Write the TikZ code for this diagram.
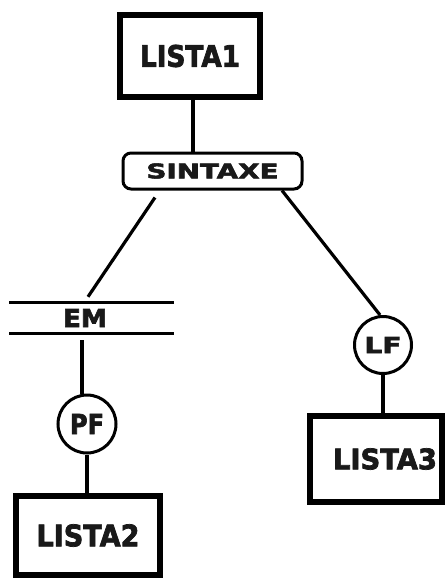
\documentclass[tikz,border=0pt]{standalone}
\usepackage{fontspec}
\setmainfont{DejaVu Sans}[BoldFeatures={FakeBold=2.5}]
\newcommand{\fittxt}[3]{\resizebox{#1}{#2}{\bfseries #3}}
\begin{document}
\begin{tikzpicture}[x=1pt,y=-1pt,
  bigbox/.style={draw=black,line width=6pt,rectangle,inner sep=0pt},
  roundbox/.style={draw=black,line width=3pt,rectangle,rounded corners=8pt,inner sep=0pt,minimum width=179pt,minimum height=36pt},
  ringnode/.style={draw=black,line width=3pt,circle,inner sep=0pt,minimum size=58pt},
  conn/.style={line width=3.2pt,draw=black},
  txt/.style={text=black!90}]
\useasboundingbox (0,0) rectangle (446,581);
\fill[white] (0,0) rectangle (446,581);
% boxes
\node[bigbox,txt,minimum width=140pt,minimum height=82pt] (LISTA1) at (190,56) {\fittxt{100pt}{22pt}{LISTA1}};
\node[roundbox,txt] (SINTAXE) at (212.5,171) {\fittxt{132pt}{15pt}{SINTAXE}};
\node[txt,inner sep=0pt,minimum height=30pt] (EM) at (85,318) {\fittxt{44pt}{18pt}{EM}};
\draw[line width=3pt] ([xshift=-76pt]EM.north) -- ([xshift=89pt]EM.north);
\draw[line width=3pt] ([xshift=-76pt]EM.south) -- ([xshift=89pt]EM.south);
\node[ringnode,txt] (PF) at (87,424) {\fittxt{34pt}{20pt}{PF}};
\node[ringnode,txt,minimum size=57pt] (LF) at (383,345) {\fittxt{37pt}{16pt}{LF}};
\node[bigbox,txt,minimum width=144pt,minimum height=79pt] (LISTA2) at (88,535.5) {\fittxt{103pt}{22pt}{LISTA2}};
\node[bigbox,minimum width=132pt,minimum height=86pt,
  label={[txt,xshift=9pt,inner sep=0pt]center:\fittxt{104pt}{21pt}{LISTA3}}] (LISTA3) at (376,459) {};
% connectors
\draw[conn] ([xshift=3pt]LISTA1.south) -- ([xshift=3pt]LISTA1.south |- SINTAXE.north);
\draw[conn] ([xshift=-57.5pt,yshift=-7pt]SINTAXE.south) -- ([xshift=3pt,yshift=6pt]EM.north);
\draw[conn] ([xshift=69.5pt]SINTAXE.south) -- ([xshift=-3pt]LF.north);
\draw[conn] ([xshift=-3pt,yshift=-7pt]EM.south) -- ([xshift=-5pt]PF.north);
\draw[conn] (PF.south) -- (PF.south |- LISTA2.north);
\draw[conn] (LF.south) -- (LF.south |- LISTA3.north);
\end{tikzpicture}
\end{document}
